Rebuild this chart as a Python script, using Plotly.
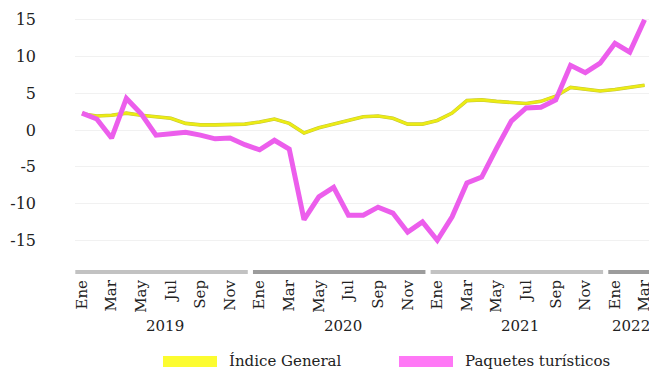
import plotly.graph_objects as go

# Monthly series, Jan 2019 - Mar 2022 (annual % change)
month_names = ["Ene", "Feb", "Mar", "Abr", "May", "Jun",
               "Jul", "Ago", "Sep", "Oct", "Nov", "Dic"]
years = ["2019", "2020", "2021", "2022"]

indice_general = [
    2.2, 1.9, 2.0, 2.3, 2.0, 1.8, 1.6, 0.9, 0.7, 0.7, 0.7, 0.8,      # 2019
    1.1, 1.5, 0.9, -0.4, 0.3, 0.8, 1.4, 1.8, 1.9, 1.6, 0.8, 0.8,     # 2020
    1.3, 2.3, 4.0, 4.1, 3.9, 3.8, 3.6, 3.9, 4.6, 5.8, 5.6, 5.3,      # 2021
    5.5, 5.8, 6.1,                                                    # 2022
]
paquetes_turisticos = [
    2.3, 1.5, -1.1, 4.3, 2.2, -0.7, -0.5, -0.3, -0.7, -1.2, -1.1, -2.0,          # 2019
    -2.7, -1.4, -2.6, -12.2, -9.1, -7.8, -11.6, -11.6, -10.5, -11.3, -13.9, -12.5,  # 2020
    -15.0, -11.8, -7.2, -6.4, -2.5, 1.2, 3.0, 3.1, 4.1, 8.8, 7.8, 9.1,         # 2021
    11.8, 10.6, 15.0,                                                           # 2022
]

y_ticks = [15, 10, 5, 0, -5, -10, -15]
y_tick_text = ["15", "10", "5", "0", "-5", "-10", "-15"]

series_names = ["Índice General", "Paquetes turísticos"]
yellow = "#ecec14"
yellow_edge = "#c4c43a"
magenta = "#ec5eec"
swatch_colors = ["#fcfc30", "#ff78f6"]

FONT = "DejaVu Serif"
n = len(indice_general)
x = list(range(n))
labels = [f"{month_names[i % 12]} {years[i // 12]}" for i in x]

fig = go.Figure()

# General index: faint olive edge under a bright yellow line
fig.add_trace(go.Scatter(x=x, y=indice_general, mode="lines",
                         line=dict(color=yellow_edge, width=3.6),
                         hoverinfo="skip", showlegend=False))
fig.add_trace(go.Scatter(x=x, y=indice_general, mode="lines",
                         line=dict(color=yellow, width=2.6),
                         name=series_names[0], text=labels, showlegend=False))
# Tour packages
fig.add_trace(go.Scatter(x=x, y=paquetes_turisticos, mode="lines",
                         line=dict(color=magenta, width=5),
                         name=series_names[1], text=labels, showlegend=False))

# Plot-area geometry (pixels) used to place the decorations below the axis
top_px, bottom_px = 5, 262
h_px = bottom_px - top_px


def paper_y(px):
    return (bottom_px - px) / h_px


shapes = []
annotations = []
bar_colors = ["#c2c2c2", "#9c9c9c", "#c2c2c2", "#9c9c9c"]
for k, yr in enumerate(years):
    first = 12 * k
    last = min(12 * k + 11, n - 1)
    # year group bar above the month labels
    shapes.append(dict(type="rect", xref="x", yref="paper",
                       x0=first - 0.45, x1=12 * k + 11.2,
                       y0=paper_y(274), y1=paper_y(270),
                       fillcolor=bar_colors[k], line=dict(width=0)))
    annotations.append(dict(xref="x", yref="paper", x=(first + last) / 2 + 0.1,
                            y=paper_y(326), text=yr, showarrow=False,
                            xanchor="center", yanchor="middle",
                            font=dict(family=FONT, size=15, color="#222")))

# Legend drawn as wide colour swatches with labels
plot_left, plot_w = 75, 574


def paper_x(px):
    return (px - plot_left) / plot_w


legend_items = [(163, 217, 227), (399, 453, 463)]
for (sx0, sx1, tx), name, col in zip(legend_items, series_names, swatch_colors):
    shapes.append(dict(type="rect", xref="paper", yref="paper",
                       x0=paper_x(sx0), x1=paper_x(sx1),
                       y0=paper_y(367), y1=paper_y(356),
                       fillcolor=col, line=dict(width=0)))
    annotations.append(dict(xref="paper", yref="paper", x=paper_x(tx),
                            y=paper_y(361), text=name, showarrow=False,
                            xanchor="left", yanchor="middle",
                            font=dict(family=FONT, size=15, color="#222")))

px_per_unit = 7.35
zero_px = 130
y_top = (zero_px - top_px) / px_per_unit
y_bottom = (zero_px - bottom_px) / px_per_unit

tick_idx = [i for i in x if i % 2 == 0]

fig.update_layout(
    width=649, height=369,
    margin=dict(l=plot_left, r=0, t=top_px, b=369 - bottom_px,
                autoexpand=False),
    paper_bgcolor="white", plot_bgcolor="white",
    font=dict(family=FONT, size=15, color="#222"),
    shapes=shapes, annotations=annotations,
    xaxis=dict(range=[-0.47, 38.3], tickmode="array", tickvals=tick_idx,
               ticktext=[month_names[i % 12] for i in tick_idx],
               tickangle=-90, showgrid=False, zeroline=False, showline=False,
               ticks="", ticklabelstandoff=14, ticklabeloverflow="allow",
               automargin=False,
               tickfont=dict(family=FONT, size=15, color="#222")),
    yaxis=dict(range=[y_bottom, y_top], tickmode="array", tickvals=y_ticks,
               ticktext=y_tick_text, showgrid=True, gridcolor="#f1f1f1",
               gridwidth=1, zeroline=False, showline=False, ticks="",
               ticklabelstandoff=38, automargin=False,
               tickfont=dict(family=FONT, size=16, color="#222")),
    showlegend=False,
)

fig.write_html("out.html")
